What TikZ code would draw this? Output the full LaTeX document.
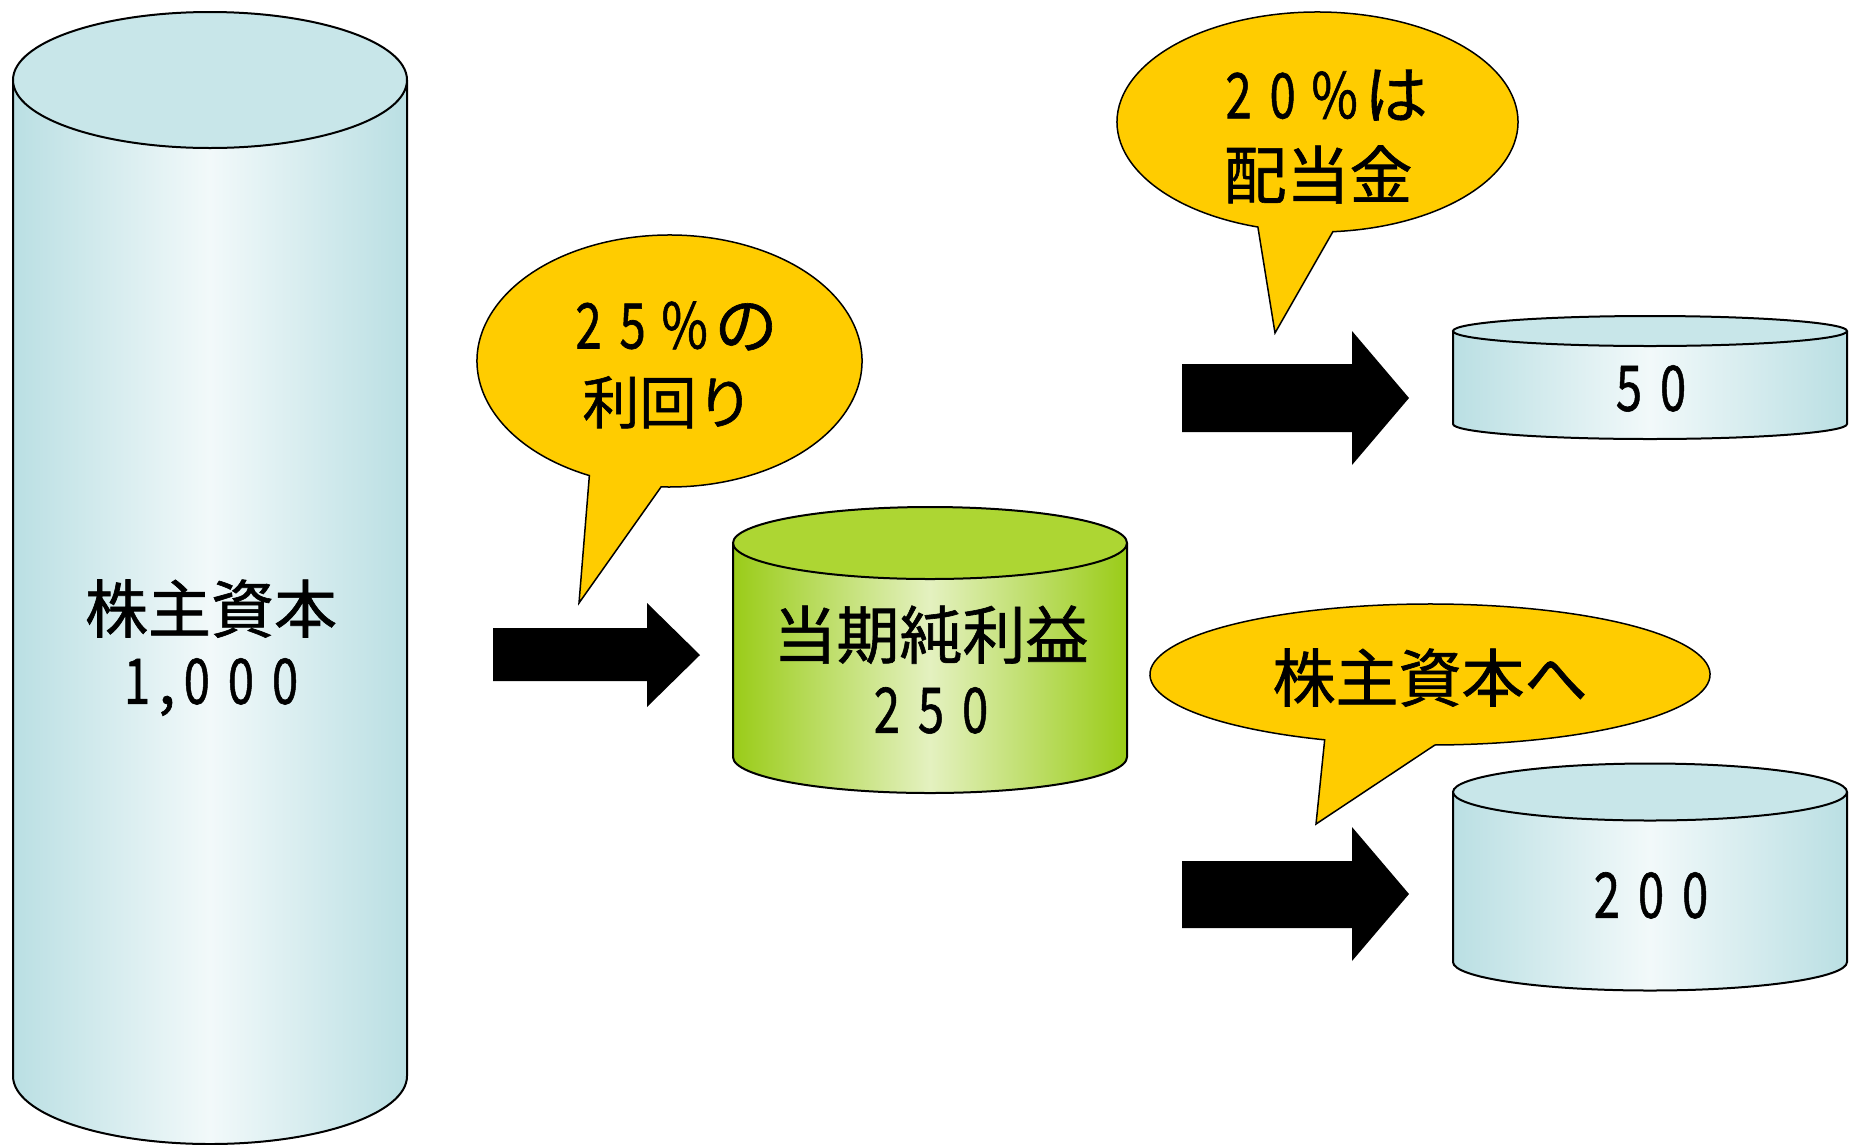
\documentclass[tikz,border=0pt]{standalone}
\usepackage{fontspec}
\usepackage{graphicx}
\newfontfamily\jp[FakeBold=1]{Noto Sans CJK JP}
\usetikzlibrary{calc}
\definecolor{cyledge}{RGB}{186,223,227}
\definecolor{cylmid}{RGB}{242,249,250}
\definecolor{cyltop}{RGB}{200,230,233}
\definecolor{grnedge}{RGB}{154,204,24}
\definecolor{grnmid}{RGB}{228,241,192}
\definecolor{grntop}{RGB}{173,214,51}
\definecolor{callfill}{RGB}{255,204,0}
\newcommand\dg[1]{\makebox[0.70em]{\scalebox{0.75}[1]{#1}}}
\newcommand\pc{\makebox[0.95em]{\scalebox{0.8}[1]{\%}}}
\newcommand\drawcyl[8]{%
  \shade[left color=#6,right color=#6,middle color=#7]
    (#1-#4,#2) -- (#1-#4,#3) arc[start angle=180,end angle=0,x radius=#4,y radius=#5] -- (#1+#4,#2) -- cycle;
  \draw[cylline] (#1-#4,#2) -- (#1-#4,#3) arc[start angle=180,end angle=0,x radius=#4,y radius=#5] -- (#1+#4,#2);
  \draw[cylline,fill=#8] (#1,#2) ellipse[x radius=#4,y radius=#5];
}
\newcommand\callout[8]{%
  \draw[callline] (#7,#8) -- ($(#1,#2)+(#5:#3 and #4)$)
    arc[start angle=#5,end angle=#6,x radius=#3,y radius=#4] -- cycle;
}
\begin{document}
\begin{tikzpicture}[x=1pt,y=-1pt,
  cylline/.style={draw=black,line width=2pt},
  callline/.style={draw=black,line width=1.5pt,fill=callfill},
  blockarrow/.style={fill=black},
  txt/.style={inner sep=0pt,text depth=0pt,font=\jp\fontsize{63}{70}\selectfont},
  txtsmall/.style={inner sep=0pt,text depth=0pt,font=\jp\fontsize{57}{64}\selectfont}]
\useasboundingbox (0,0) rectangle (1849,1144);
\fill[white] (0,0) rectangle (1849,1144);

% cylinders
\drawcyl{210}{80}{1076}{197}{68}{cyledge}{cylmid}{cyltop}
\drawcyl{930}{543}{757}{197}{36}{grnedge}{grnmid}{grntop}
\drawcyl{1650}{331}{424}{197}{15}{cyledge}{cylmid}{cyltop}
\drawcyl{1650}{792}{962}{197}{28.5}{cyledge}{cylmid}{cyltop}

% block arrows
\fill[blockarrow] (493,628) -- (647,628) -- (647,603) -- (700,655) -- (647,707) -- (647,681) -- (493,681) -- cycle;
\fill[blockarrow] (1182,364) -- (1352,364) -- (1352,331) -- (1409,398) -- (1352,465) -- (1352,432) -- (1182,432) -- cycle;
\fill[blockarrow] (1182,861) -- (1352,861) -- (1352,827) -- (1409,894) -- (1352,961) -- (1352,928) -- (1182,928) -- cycle;

% callouts
\callout{669.5}{361}{192.5}{126}{114.6}{452.5}{579}{603}
\callout{1317.5}{122}{200.5}{110}{107.3}{445.6}{1275}{333}
\callout{1430}{674.5}{280}{70.5}{112.1}{449}{1316}{824}

% texts
\node[txt] (bigname) at (211,606) {株主資本};
\node[txt] (bigval) at (211,681) {\dg{1}\makebox[0.25em]{,}\dg{0}\dg{0}\dg{0}};
\node[txt] (netname) at (931,632) {当期純利益};
\node[txt] (netval) at (931,710) {\dg{2}\dg{5}\dg{0}};
\node[txt] (divval) at (1651,388) {\dg{5}\dg{0}};
\node[txt] (retval) at (1651,895) {\dg{2}\dg{0}\dg{0}};
\node[txt] (c1a) at (672,325) {\dg{2}\dg{5}\pc の};
\node[txtsmall] (c1b) at (668,400) {利回り};
\node[txt] (c2a) at (1322,94) {\dg{2}\dg{0}\pc は};
\node[txt] (c2b) at (1318,172) {配当金};
\node[txt] (c3) at (1430,675) {株主資本へ};
\end{tikzpicture}
\end{document}
